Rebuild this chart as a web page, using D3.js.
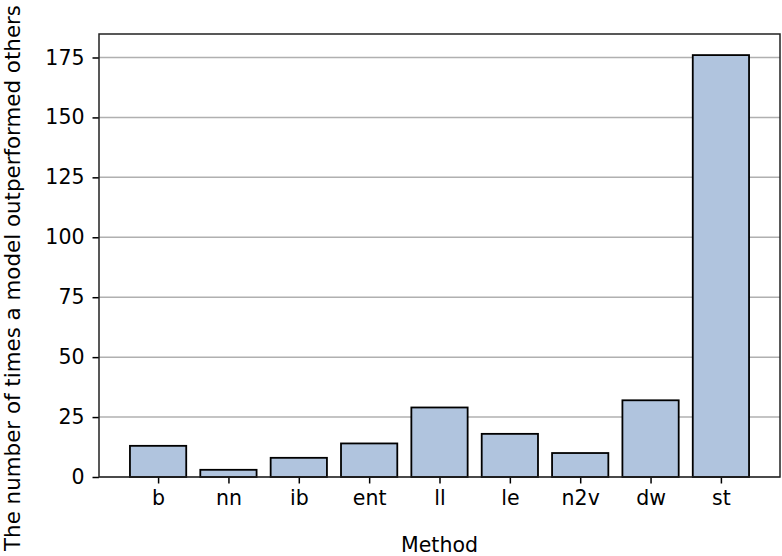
<!DOCTYPE html>
<html>
<head>
<meta charset="utf-8">
<script src="https://cdn.jsdelivr.net/npm/d3@7"></script>
<style>
  body { margin: 0; background: #fff; }
  text { font-family: "DejaVu Sans", sans-serif; fill: #000; }
</style>
</head>
<body>
<div id="chart"></div>
<script>
// data
var methods = ["b", "nn", "ib", "ent", "ll", "le", "n2v", "dw", "st"];
var counts = [13, 3, 8, 14, 29, 18, 10, 32, 176];
var yTicks = [0, 25, 50, 75, 100, 125, 150, 175];

var svgWidth = 782;
var svgHeight = 556;
var fontSize = "20.5px";

var margin = { top: 34, right: 2, bottom: 79, left: 99 };
var width = svgWidth - margin.left - margin.right;
var height = svgHeight - margin.top - margin.bottom;

var svg = d3.select("#chart")
  .append("svg")
  .attr("width", svgWidth)
  .attr("height", svgHeight);

var chartGroup = svg.append("g")
  .attr("transform", `translate(${margin.left}, ${margin.top})`);

// matplotlib style: bars at integer positions, width 0.8, 5% margins
var xLinear = d3.scaleLinear()
  .domain([-0.84, methods.length - 1 + 0.84])
  .range([0, width]);

var yLinear = d3.scaleLinear()
  .domain([0, d3.max(counts) * 1.05])
  .range([height, 0]);

// grid lines
chartGroup.append("g")
  .selectAll("line")
  .data(yTicks)
  .enter()
  .append("line")
  .attr("x1", 0)
  .attr("x2", width)
  .attr("y1", d => yLinear(d))
  .attr("y2", d => yLinear(d))
  .attr("stroke", "#b0b0b0")
  .attr("stroke-width", 1.5);

// bars
var barW = xLinear(0.8) - xLinear(0);
chartGroup.selectAll("rect.bar")
  .data(counts)
  .enter()
  .append("rect")
  .classed("bar", true)
  .attr("x", (d, i) => xLinear(i) - barW / 2)
  .attr("y", d => yLinear(d))
  .attr("width", barW)
  .attr("height", d => height - yLinear(d))
  .attr("fill", "#b0c4de")
  .attr("stroke", "#000")
  .attr("stroke-width", 1.8);

// axes
var bottomAxis = d3.axisBottom(xLinear)
  .tickValues(d3.range(methods.length))
  .tickFormat(i => methods[i])
  .tickSize(6.5)
  .tickPadding(7);

var leftAxis = d3.axisLeft(yLinear)
  .tickValues(yTicks)
  .tickSize(6.5)
  .tickPadding(8);

var xAxis = chartGroup.append("g")
  .attr("transform", `translate(0, ${height})`)
  .call(bottomAxis);

var yAxis = chartGroup.append("g")
  .call(leftAxis);

[xAxis, yAxis].forEach(function(ax) {
  ax.select(".domain").remove();
  ax.selectAll("line").attr("stroke", "#000").attr("stroke-width", 1.5);
  ax.selectAll("text")
    .style("font-family", "DejaVu Sans")
    .style("font-size", fontSize)
    .attr("fill", "#000");
});

// frame
chartGroup.append("rect")
  .attr("x", 0)
  .attr("y", 0)
  .attr("width", width)
  .attr("height", height)
  .attr("fill", "none")
  .attr("stroke", "#222")
  .attr("stroke-width", 1.5);

// axis labels
svg.append("text")
  .attr("x", margin.left + width / 2)
  .attr("y", 552)
  .attr("text-anchor", "middle")
  .style("font-size", fontSize)
  .text("Method");

svg.append("text")
  .attr("transform", "translate(20, 278) rotate(-90)")
  .attr("text-anchor", "middle")
  .style("font-size", "21.4px")
  .text("The number of times a model outperformed others");
</script>
</body>
</html>
